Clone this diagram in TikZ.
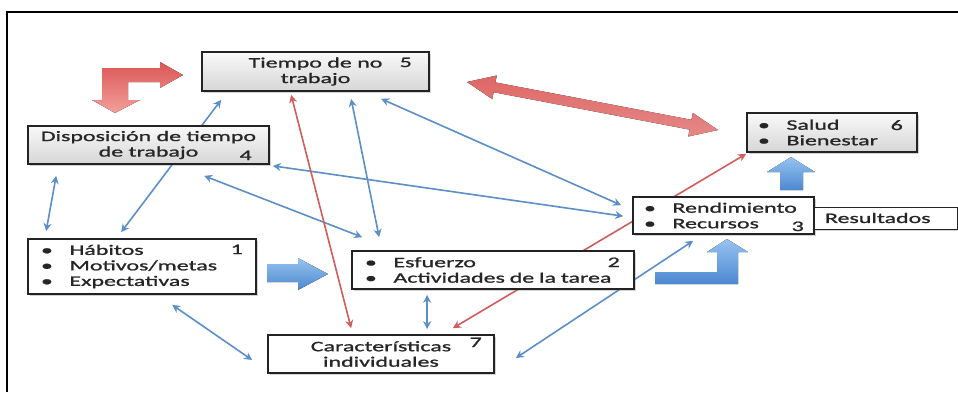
\documentclass[tikz,border=0pt]{standalone}
\usepackage{fontspec}
\setmainfont{Carlito}[FakeStretch=1.65,FakeBold=1.2]
\usepackage{tikz}
\usetikzlibrary{arrows.meta,shadows}
\pgfdeclarelayer{bg}
\pgfsetlayers{bg,main}
\definecolor{linkblue}{RGB}{92,142,200}
\definecolor{linkred}{RGB}{208,92,92}
\definecolor{boxline}{RGB}{35,35,35}
\definecolor{redtop}{RGB}{218,86,84}
\definecolor{redbot}{RGB}{244,160,156}
\definecolor{bluetop}{RGB}{150,195,240}
\definecolor{bluebot}{RGB}{76,136,208}
\newcommand\itm[1]{\makebox[28.5pt][l]{\textbullet}#1}
\tikzset{
	every node/.style={font=\fontsize{14.5}{15.5}\selectfont, text=black!85},
	box/.style={draw=boxline, line width=1.7pt, fill=white, inner sep=0pt, align=center,
		drop shadow={opacity=0.35, shadow xshift=1.5pt, shadow yshift=-1.5pt}},
	graybox/.style={box, top color=gray!5, bottom color=gray!32},
	listbox/.style={align=left, inner xsep=#1},
	num/.style={anchor=base east, inner sep=0pt},
	link/.style={draw=linkblue, line width=1.6pt,
		{Stealth[length=8pt,width=8pt]}-{Stealth[length=8pt,width=8pt]}},
	redlink/.style={link, draw=linkred},
	redblock/.style={top color=redtop, bottom color=redbot, draw=none},
	blueblock/.style={top color=bluetop, bottom color=bluebot, draw=none},
}
\begin{document}
\begin{tikzpicture}[x=1pt,y=-1pt]
	\useasboundingbox (0,0) rectangle (958,392);
	\draw[line width=2pt] (7,392) -- (7,12) -- (958,12);

	% boxes
	\node[graybox, minimum width=227pt, minimum height=39pt] (b5) at (315.5,71.5) {Tiempo de no\\trabajo};
	\node[graybox, minimum width=241pt, minimum height=38pt] (b4) at (148.5,145) {Disposición de tiempo\\de trabajo};
	\node[graybox, listbox=11pt, text width=148pt, minimum height=39pt] (b6) at (832,132.5) {\itm{Salud}\\\itm{Bienestar}};
	\node[box, listbox=11pt, text width=159pt, minimum height=37pt] (b3) at (723.5,215.5) {\itm{Rendimiento}\\\itm{Recursos}};
	\node[box, listbox=11pt, text width=121pt, minimum height=22pt, line width=1pt, drop shadow={opacity=0}] (res) at (885.5,218) {Resultados};
	\node[box, listbox=13pt, text width=202pt, minimum height=55pt] (b1) at (142,266.5) {\itm{Hábitos}\\\itm{Motivos/metas}\\\itm{Expectativas}};
	\node[box, listbox=13pt, text width=256pt, minimum height=38pt] (b2) at (493,270) {\itm{Esfuerzo}\\\itm{Actividades de la tarea}};
	\node[box, minimum width=226pt, minimum height=38pt] (b7) at (381,354) {Características\\individuales};

	% numbers
	\node[num] (n1) at (243,254) {1};
	\node[num] (n2) at (620,267) {2};
	\node[num] (n3) at (804,231) {3};
	\node[num] (n4) at (252,160) {4};
	\node[num] (n5) at (412,67) {5};
	\node[num] (n6) at (903,130) {6};
	\node[num] (n7) at (482,347) {7};

	% block arrows
	\fill[redblock] (102,68) -- (160,68) -- (160,62) -- (183,75) -- (160,88) -- (160,82) -- (128,82)
		-- (128,100) -- (140,100) -- (115,113) -- (92,100) -- (102,100) -- cycle;
	\fill[redblock, top color=redtop!90!white, bottom color=redtop!70!white] (467,82) -- (496.8,75.5) -- (495.4,82.4) -- (691.4,119.8) -- (692.8,112.9) -- (718,130)
		-- (688.2,136.5) -- (689.6,129.6) -- (493.6,92.2) -- (492.3,99.1) -- cycle;
	\fill[blueblock] (267,264) -- (298,264) -- (298,258) -- (328,274) -- (298,290) -- (298,282) -- (267,282) -- cycle;
	\fill[blueblock] (780,190) -- (780,172) -- (767,172) -- (791,157) -- (815,172) -- (803,172) -- (803,190) -- cycle;
	\fill[blueblock] (655,272) -- (717,272) -- (717,252) -- (707,252) -- (727,239) -- (748,252) -- (738,252)
		-- (738,284) -- (655,284) -- cycle;

	% connectors
	\begin{pgfonlayer}{bg}
		\draw[link] ([xshift=19pt,yshift=7pt]b1.north west) -- ([xshift=29pt,yshift=-11pt]b4.south west);
		\draw[link] ([xshift=94pt,yshift=6pt]b1.north west) -- ([xshift=20pt,yshift=-8pt]b5.south west);
		\draw[link] ([xshift=177pt,yshift=-11pt]b4.south west) -- ([xshift=11pt,yshift=13pt]b2.north west);
		\draw[link] ([xshift=3pt,yshift=-1pt]b4.south east) -- ([xshift=-9pt,yshift=-20pt]b3.north west);
		\draw[link] ([xshift=150pt,yshift=-7pt]b5.south west) -- ([xshift=28pt,yshift=13pt]b2.north west);
		\draw[link] ([xshift=180pt,yshift=-7pt]b5.south west) -- ([xshift=-11pt,yshift=-9pt]b3.north west);
		\draw[link] ([xshift=76pt,yshift=-5pt]b2.south west) -- ([xshift=160pt,yshift=5pt]b7.north west);
		\draw[link] ([xshift=145pt,yshift=-10pt]b1.south west) -- ([xshift=-15pt,yshift=-6pt]b7.west);
		\draw[link] ([xshift=61pt,yshift=-6pt]b3.south west) -- ([xshift=21pt,yshift=-4pt]b7.east);
		\draw[redlink] ([xshift=90pt,yshift=-3pt]b5.south west) -- ([xshift=84pt,yshift=6pt]b7.north west);
		\draw[redlink] ([xshift=-42pt,yshift=6pt]b7.north east) -- ([yshift=-1pt]b6.south west);
	\end{pgfonlayer}
\end{tikzpicture}
\end{document}
